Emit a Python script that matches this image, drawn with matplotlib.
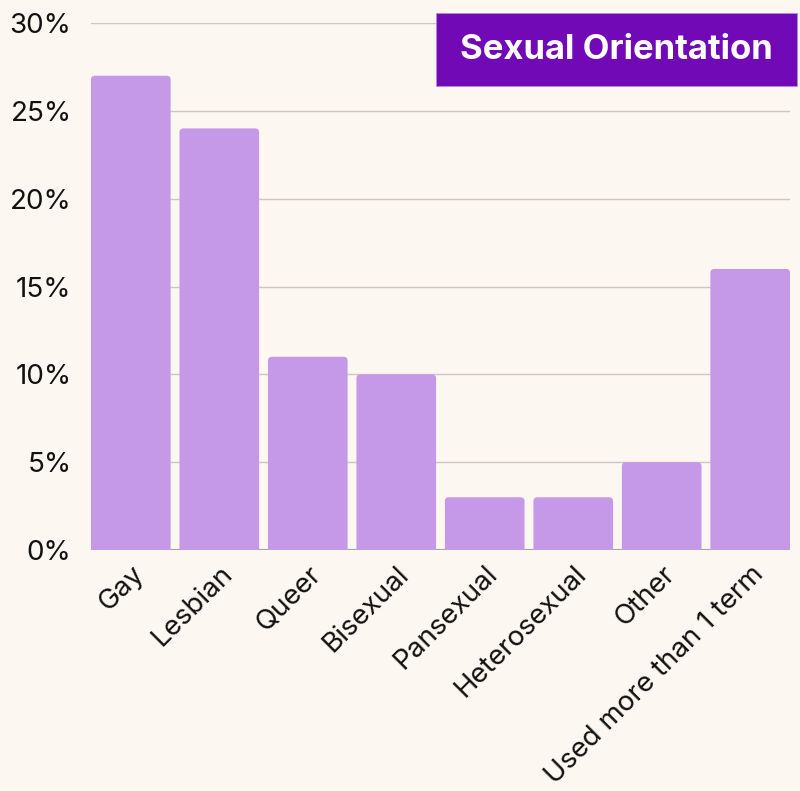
import matplotlib
matplotlib.use("Agg")
import matplotlib.pyplot as plt
from matplotlib.patches import FancyBboxPatch, Rectangle
from matplotlib.ticker import FuncFormatter

categories = ["Gay", "Lesbian", "Queer", "Bisexual", "Pansexual",
              "Heterosexual", "Other", "Used more than 1 term"]
values = [27, 24, 11, 10, 3, 3, 5, 16]
yticks = [0, 5, 10, 15, 20, 25, 30]

bg = "#fdf7f2"
bar_color = "#c599e8"
title_bg = "#7209b7"

plt.rcParams['font.family'] = ['Inter', 'DejaVu Sans']

fig = plt.figure(figsize=(8, 7.91), dpi=100, facecolor=bg)
ax = fig.add_axes([0.11375, 0.3047, 0.87375, 0.6662])
ax.set_facecolor(bg)

width = 0.9
bars = ax.bar(range(len(categories)), values, width=width, color=bar_color, zorder=2)
ax.set_xlim(-0.45, len(categories) - 0.55)
ax.set_ylim(0, 30)

# swap plain bars for ones with rounded top corners
fig.canvas.draw()
px_x = ax.transData.transform((1, 0))[0] - ax.transData.transform((0, 0))[0]
px_y = ax.transData.transform((0, 1))[1] - ax.transData.transform((0, 0))[1]
r_px = 4
for b in bars:
    x0, h = b.get_x(), b.get_height()
    b.set_visible(False)
    p = FancyBboxPatch((x0, -1), width, h + 1,
                       boxstyle=f"round,pad=0,rounding_size={r_px / px_x}",
                       mutation_aspect=px_x / px_y,
                       facecolor=bar_color, edgecolor="none", zorder=2)
    ax.add_patch(p)

ax.set_yticks(yticks)
ax.yaxis.set_major_formatter(FuncFormatter(lambda v, _: f"{v:.0f}%"))
ax.grid(axis="y", color="#cfc6c4", linewidth=1, zorder=0)
ax.axhline(0, color="#a09a98", linewidth=1.5, zorder=1)
for s in ax.spines.values():
    s.set_visible(False)
ax.tick_params(axis="both", length=0, labelsize=20, colors="#111111")
ax.tick_params(axis="y", pad=14)
ax.tick_params(axis="x", pad=8)
ax.set_xticks(range(len(categories)))
ax.set_xticklabels(categories, rotation=45, ha="right", rotation_mode="anchor")

# title badge
fig.patches.append(Rectangle((0.545, 0.8913), 0.45125, 0.0923, transform=fig.transFigure,
                             facecolor=title_bg, edgecolor="#b58ad8", linewidth=0.6,
                             zorder=3))
fig.text(0.7706, 0.9374, "Sexual Orientation", ha="center", va="center",
         fontsize=25, fontweight="bold", color="white", zorder=4)

fig.savefig("out.png", dpi=100, facecolor=bg)
